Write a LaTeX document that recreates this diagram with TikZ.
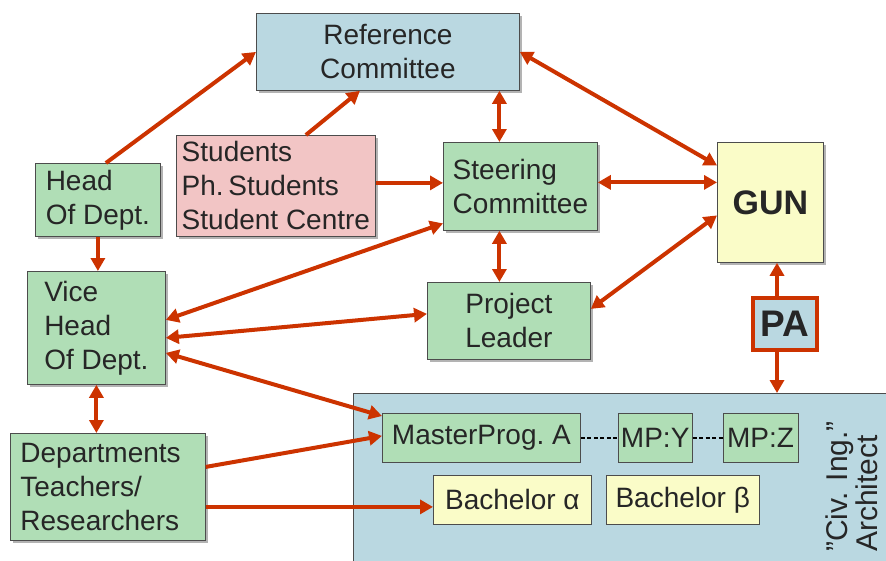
\documentclass[tikz,border=0pt]{standalone}
\usepackage{fontspec}
\setmainfont{Liberation Sans}
\usetikzlibrary{arrows.meta, positioning, shadows}
\definecolor{refblue}{RGB}{186,216,225}
\definecolor{stupink}{RGB}{242,197,197}
\definecolor{deptgreen}{RGB}{176,222,182}
\definecolor{gunyellow}{RGB}{250,252,200}
\definecolor{linkred}{RGB}{204,51,0}
\newcommand{\boxfont}{\fontsize{28}{34}\selectfont}
\tikzset{
  box/.style={draw=black!70, line width=0.8pt, rectangle, anchor=north west, inner sep=0pt, font=\boxfont, text=black!85},
  shadowed/.style={box, drop shadow={shadow xshift=3pt, shadow yshift=-3pt, opacity=.6}},
  committee/.style={shadowed, fill=refblue, align=center},
  student/.style={shadowed, fill=stupink, align=left},
  staff/.style={shadowed, fill=deptgreen, align=left},
  programme/.style={box, fill=deptgreen},
  bachelor/.style={box, fill=gunyellow},
  link/.style={draw=linkred, line width=4pt, -{Triangle[length=13pt,width=14pt]}},
  twoway/.style={link, {Triangle[length=13pt,width=14pt]}-{Triangle[length=13pt,width=14pt]}},
  dotlink/.style={draw=black, line width=2.8pt, dash pattern=on 4pt off 2.5pt},
}

\begin{document}
\begin{tikzpicture}[x=1pt, y=-1pt]
  \clip (0,0) rectangle (886,560);

  % institution frame
  \node[box, fill=refblue, minimum width=560pt, minimum height=200pt] (uni) at (353,393) {};

  \node[committee, minimum width=263pt, minimum height=77pt] (ref) at (256,13) {Reference\\Committee};
  \node[staff, minimum width=125pt, minimum height=73pt] (head) at (35,163) {Head\\Of Dept.};
  \node[student, minimum width=199pt, minimum height=101pt] (stud) at (176,135) {Students\\Ph.\,Students\\Student Centre};
  \node[staff, minimum width=154pt, minimum height=88pt] (steer) at (443,142) {Steering\\Committee};
  \node[shadowed, fill=gunyellow, minimum width=106pt, minimum height=120pt, font=\fontsize{34}{40}\selectfont\bfseries] (gun) at (717,142) {GUN};
  \node[box, draw=linkred, line width=4pt, fill=refblue, minimum width=64pt, minimum height=52pt, font=\fontsize{37}{44}\selectfont\bfseries] (pa) at (751,296) {PA};
  \node[staff, minimum width=138pt, minimum height=113pt] (vice) at (27,271) {Vice\\Head\\Of Dept.};
  \node[staff, align=center, minimum width=163pt, minimum height=77pt] (pl) at (427,282) {Project\\Leader};
  \node[staff, text width=175pt, inner xsep=10pt, minimum height=107pt] (dept) at (10,433) {Departments\\Teachers/\\Researchers};

  % programmes
  \node[programme, minimum width=198pt, minimum height=49pt] (mpa) at (382,413) {MasterProg.\ A};
  \node[programme, right=37pt of mpa, minimum width=74pt, minimum height=49pt] (mpy) {MP:Y};
  \node[programme, right=30pt of mpy, minimum width=75pt, minimum height=49pt] (mpz) {MP:Z};
  \node[bachelor, minimum width=158pt, minimum height=49pt] (ba) at (433,475) {Bachelor α};
  \node[bachelor, right=14pt of ba, minimum width=153pt, minimum height=49pt] (bb) {Bachelor β};
  \node[rotate=90, anchor=north west, inner sep=0pt, align=left, font=\fontsize{30}{30}\selectfont, text=black!85] (civ) at (826,552) {”Civ. Ing.”\\Architect};

  \draw[dotlink] (mpa) -- (mpy);
  \draw[dotlink] (mpy) -- (mpz);

  \draw[link] ([xshift=8pt]head.north) -- (ref.west);
  \draw[link] ([xshift=30pt]stud.north) -- ([xshift=-28pt]ref.south);
  \draw[twoway] ([xshift=-21pt]steer.north) -- ([xshift=-21pt]steer.north |- ref.south);
  \draw[twoway] (ref.east) -- ([yshift=37pt]gun.west);
  \draw[link] ([yshift=3pt]stud.east) -- ([yshift=3pt]stud.east -| steer.west);
  \draw[twoway] ([yshift=4pt]steer.east) -- ([yshift=4pt]steer.east -| gun.west);
  \draw[twoway] ([xshift=-21pt]steer.south) -- ([xshift=-21pt]steer.south |- pl.north);
  \draw[twoway] ([yshift=12pt]pl.east) -- ([yshift=-13pt]gun.west);
  \draw[link] (head.south) -- (head.south |- vice.north);
  \draw[twoway] ([yshift=-37pt]steer.west) -- ([yshift=8pt]vice.east);
  \draw[twoway] ([yshift=-10pt]vice.east) -- ([yshift=7pt]pl.west);
  \draw[twoway] ([yshift=-25pt]vice.east) -- ([yshift=-3pt]mpa.north west);
  \draw[twoway] (vice.south) -- (vice.south |- dept.north);
  \draw[link] ([yshift=20pt]dept.east) -- ([yshift=2pt]mpa.west);
  \draw[link] ([yshift=-20pt]dept.east) -- ([yshift=-20pt]dept.east -| ba.west);
  \draw[link] ([xshift=-8pt]pa.north) -- ([xshift=-8pt]pa.north |- gun.south);
  \draw[link] ([xshift=-8pt]pa.south) -- ([xshift=-8pt]pa.south |- uni.north);
\end{tikzpicture}
\end{document}
